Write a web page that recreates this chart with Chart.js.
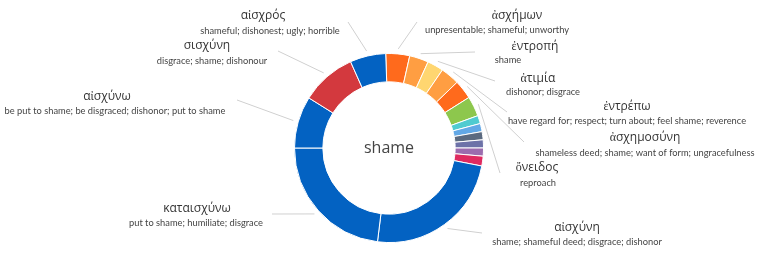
<!DOCTYPE html>
<html>
<head>
<meta charset="utf-8">
<script src="https://cdn.jsdelivr.net/npm/chart.js@4/dist/chart.umd.min.js"></script>
<style>
  html, body { margin: 0; padding: 0; background: #fff; }
  #wrap { width: 768px; height: 269px; position: relative; }
</style>
</head>
<body>
<div id="wrap"><canvas id="chart" width="768" height="269"></canvas></div>
<script>
// segment words, clockwise from the top
const words = ['ἀσχήμων', 'ἐντροπή', 'ἀτιμία', 'ἐντρέπω', 'ἀσχημοσύνη', 'ὄνειδος',
    '', '', '', '', '', '',
    'αἰσχύνη', 'καταισχύνω', 'αἰσχύνω', 'σισχύνη', 'αἰσχρός'];
const glosses = ['unpresentable; shameful; unworthy', 'shame', 'dishonor; disgrace',
    'have regard for; respect; turn about; feel shame; reverence',
    'shameless deed; shame; want of form; ungracefulness', 'reproach',
    '', '', '', '', '', '',
    'shame; shameful deed; disgrace; dishonor', 'put to shame; humiliate; disgrace',
    'be put to shame; be disgraced; dishonor; put to shame', 'disgrace; shame; dishonour',
    'shameful; dishonest; ugly; horrible'];
const values = [14.7, 11.7, 10, 11.6, 11.7, 12.3, 5, 5, 5, 5, 5, 6, 86, 83, 32, 34, 22];
const centerWord = 'shame';

// styling / layout (not data)
const colors = ['#ff6a1c', '#ff9e42', '#ffd670', '#ff9e42', '#ff6a1c', '#8dc74d',
    '#4fcbd0', '#62a8e6', '#5b6a80', '#6d72a8', '#9b6cae', '#df2a60',
    '#0362c2', '#0362c2', '#0362c2', '#d3393e', '#0362c2'];
// [titleX, titleY, glossX, glossY, lineEndX, lineEndY]
const labelPos = {
    0: [517, 16, 497, 30, 417, 22],
    1: [535, 47, 508, 60, 475, 52],
    2: [538, 79, 543, 92, 495, 81],
    3: [627, 107, 627, 121, 507, 112],
    4: [645, 138, 645, 153, 524, 142],
    5: [537, 168, 538, 183, 500, 173],
    12: [577, 228, 577, 242, 482, 233],
    13: [197, 209, 196, 223, 272, 214],
    14: [107, 97, 115, 111, 237, 100],
    15: [207, 46, 212, 61, 278, 51],
    16: [263, 16, 270, 31, 348, 22]
};

const labelPlugin = {
    id: 'labelPlugin',
    afterDraw: function (chart) {
        const ctx = chart.ctx;
        const arcs = chart.getDatasetMeta(0).data;
        ctx.save();
        Object.keys(labelPos).forEach(k => {
            const i = parseInt(k);
            const p = labelPos[k];
            const arc = arcs[i];
            const mid = (arc.startAngle + arc.endAngle) / 2;
            const r = arc.outerRadius + 5;
            ctx.strokeStyle = '#d0d0d0';
            ctx.lineWidth = 1;
            ctx.beginPath();
            ctx.moveTo(arc.x + Math.cos(mid) * r, arc.y + Math.sin(mid) * r);
            ctx.lineTo(p[4], p[5]);
            ctx.stroke();

            ctx.textAlign = 'center';
            ctx.textBaseline = 'middle';
            ctx.fillStyle = '#333';
            ctx.font = '12px "Open Sans"';
            ctx.fillText(words[i], p[0], p[1]);
            ctx.fillStyle = '#444';
            ctx.font = '9.3px Lato';
            ctx.fillText(glosses[i], p[2], p[3]);
        });
        // center word
        const a0 = arcs[0];
        ctx.fillStyle = '#444';
        ctx.font = '16px "Open Sans"';
        ctx.textAlign = 'center';
        ctx.textBaseline = 'middle';
        ctx.fillText(centerWord, a0.x, a0.y);
        ctx.restore();
    }
};

new Chart(document.getElementById('chart'), {
    type: 'doughnut',
    data: {
        labels: words,
        datasets: [{
            data: values,
            backgroundColor: colors,
            borderColor: '#fff',
            borderWidth: 1
        }]
    },
    options: {
        responsive: false,
        animation: false,
        rotation: -2,
        cutout: '70%',
        layout: { padding: { top: 53, bottom: 26, left: 10, right: 0 } },
        plugins: {
            legend: { display: false },
            tooltip: { enabled: false }
        }
    },
    plugins: [labelPlugin]
});
</script>
</body>
</html>
